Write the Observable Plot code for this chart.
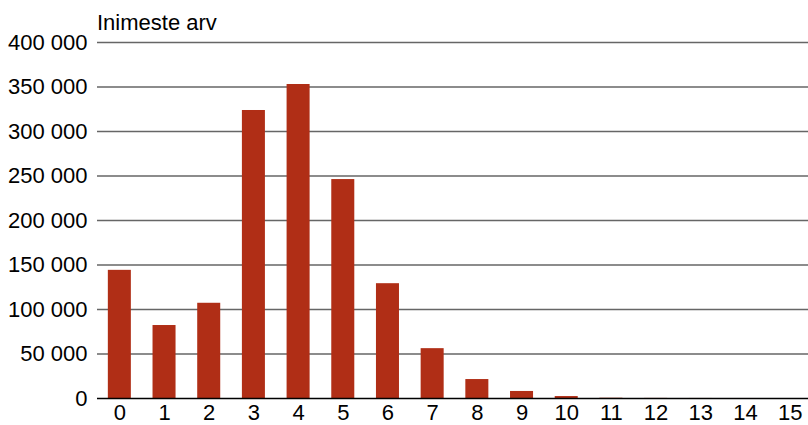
<!DOCTYPE html>
<html><head><meta charset="utf-8">
<script src="https://cdn.jsdelivr.net/npm/d3@7"></script>
<script src="https://cdn.jsdelivr.net/npm/@observablehq/plot@0.6"></script>
<style>
body{margin:0;background:#fff;font-family:"Liberation Sans",Arial,sans-serif;}
#wrap{position:relative;width:808px;height:425px;overflow:hidden;}
#title{position:absolute;left:97px;top:10px;font-size:22px;color:#000;line-height:1.15;}
#chart svg{display:block;max-width:none !important;}
</style></head><body>
<div id="wrap"><div id="title">Inimeste arv</div><div id="chart"></div></div>
<script>
const categories = ["0","1","2","3","4","5","6","7","8","9","10","11","12","13","14","15"];
const values = [144000, 82000, 107000, 323600, 352800, 246000, 129000, 56000, 21300, 7900, 2200, 300, 100, 40, 10, 5];
const yTicks = [0, 50000, 100000, 150000, 200000, 250000, 300000, 350000, 400000];
const data = categories.map((c, i) => ({c, v: values[i]}));
const fmt = d => d3.format(",")(d).replace(/,/g, " ");
const chart = Plot.plot({
  width: 812, height: 425,
  marginLeft: 97, marginRight: 0, marginTop: 42, marginBottom: 27,
  style: {fontFamily: '"Liberation Sans", Arial, sans-serif', fontSize: "22px", color: "#000", background: "#fff", maxWidth: "none"},
  x: {domain: categories, paddingInner: 0.485, paddingOuter: 0.2425, align: 0.5, round: false, label: null, tickSize: 0, tickPadding: 6},
  y: {domain: [0, 400000], ticks: yTicks, tickFormat: fmt, label: null, tickSize: 0, tickPadding: 10},
  marks: [
    Plot.ruleY(yTicks.filter(d => d > 0), {stroke: "#666", strokeWidth: 1.5, strokeOpacity: 1}),
    Plot.barY(data, {x: "c", y: "v", fill: "#b02e16"}),
    Plot.ruleY([0], {stroke: "#000", strokeWidth: 1.5})
  ]
});
document.getElementById("chart").appendChild(chart);
</script></body></html>
